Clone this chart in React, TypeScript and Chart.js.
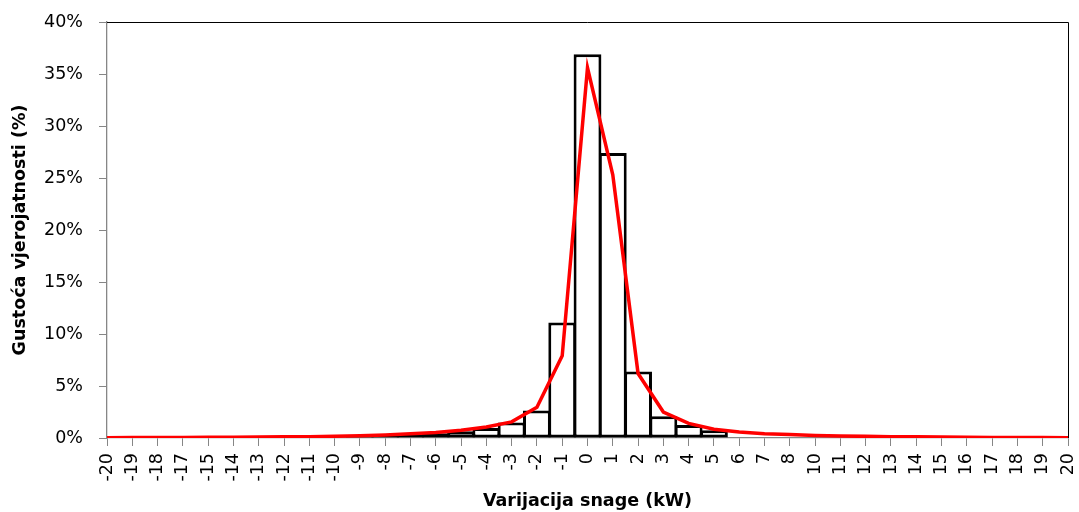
import React, { useEffect, useRef } from "react";
import { Chart, registerables } from "chart.js";

Chart.register(...registerables);

const categories: string[] = [
  "-20", "-19", "-18", "-17", "-15", "-14", "-13", "-12", "-11", "-10",
  "-9", "-8", "-7", "-6", "-5", "-4", "-3", "-2", "-1", "0",
  "1", "2", "3", "4", "5", "6", "7", "8", "10", "11",
  "12", "13", "14", "15", "16", "17", "18", "19", "20",
];

// Histogram (bar) values in %
const histogramValues: (number | null)[] = [
  null, null, null, null, null, null, null, null, null, null,
  0.15, 0.22, 0.35, 0.45, 0.65, 0.95, 1.5, 2.65, 11.1, 36.9,
  27.4, 6.4, 2.1, 1.25, 0.75, null, null, null, null, null,
  null, null, null, null, null, null, null, null, null,
];

// Fitted density (line) values in %
const densityValues: number[] = [
  0.03, 0.04, 0.05, 0.06, 0.07, 0.08, 0.09, 0.11, 0.13, 0.17,
  0.22, 0.3, 0.4, 0.53, 0.75, 1.05, 1.55, 2.95, 7.9, 35.6,
  25.3, 6.2, 2.5, 1.4, 0.85, 0.58, 0.42, 0.33, 0.24, 0.19,
  0.16, 0.13, 0.11, 0.09, 0.07, 0.06, 0.05, 0.04, 0.03,
];

const yTitle = "Gustoća vjerojatnosti (%)";
const xTitle = "Varijacija snage (kW)";

const FONT = "'DejaVu Sans', sans-serif";
const AXIS_GRAY = "#868686";

const frameBorder = {
  id: "frameBorder",
  afterDatasetsDraw(chart: any) {
    const { ctx, chartArea } = chart;
    ctx.save();
    ctx.strokeStyle = "#000000";
    ctx.lineWidth = 1;
    ctx.beginPath();
    ctx.moveTo(chartArea.left, chartArea.top + 0.5);
    ctx.lineTo(chartArea.right + 0.5, chartArea.top + 0.5);
    ctx.lineTo(chartArea.right + 0.5, chartArea.bottom);
    ctx.stroke();
    ctx.restore();
  },
};

export default function App() {
  const canvasRef = useRef<HTMLCanvasElement | null>(null);

  useEffect(() => {
    if (!canvasRef.current) return;
    const chart = new Chart(canvasRef.current, {
      type: "bar",
      data: {
        labels: categories,
        datasets: [
          {
            type: "line",
            label: "Gustoća",
            data: densityValues,
            borderColor: "#FF0000",
            borderWidth: 3.5,
            pointRadius: 0,
            tension: 0,
            fill: false,
            order: 0,
          },
          {
            type: "bar",
            label: "Histogram",
            data: histogramValues,
            backgroundColor: "#FFFFFF",
            borderColor: "#000000",
            borderWidth: 3,
            borderSkipped: false,
            categoryPercentage: 1,
            barPercentage: 1.1,
            order: 1,
          },
        ],
      },
      plugins: [frameBorder],
      options: {
        responsive: false,
        animation: false,
        layout: { padding: { left: 0, top: 22, right: 11, bottom: 0 } },
        plugins: {
          legend: { display: false },
          tooltip: { enabled: false },
        },
        scales: {
          x: {
            type: "category",
            offset: false,
            grid: {
              offset: false,
              drawOnChartArea: false,
              drawTicks: true,
              tickLength: 8,
              color: AXIS_GRAY,
              lineWidth: 1,
            },
            border: { display: true, color: AXIS_GRAY, width: 1.3 },
            ticks: {
              autoSkip: false,
              maxRotation: 90,
              minRotation: 90,
              padding: 7,
              color: "#000000",
              font: { family: FONT, size: 17.5 },
            },
            title: {
              display: true,
              text: xTitle,
              color: "#000000",
              font: { family: FONT, size: 17.5, weight: "bold" },
              padding: { top: 0, bottom: 0 },
            },
            afterFit(scale: any) {
              scale.height = 74;
              scale.paddingLeft = 0;
              scale.paddingRight = 0;
            },
          },
          y: {
            min: 0,
            max: 40,
            grid: {
              drawOnChartArea: false,
              drawTicks: true,
              tickLength: 8,
              color: AXIS_GRAY,
              lineWidth: 1,
            },
            border: { display: true, color: AXIS_GRAY, width: 1.3 },
            ticks: {
              stepSize: 5,
              padding: 16,
              color: "#000000",
              font: { family: FONT, size: 17.5 },
              callback: (v: any) => `${v}%`,
            },
            title: {
              display: true,
              text: yTitle,
              color: "#000000",
              font: { family: FONT, size: 17.5, weight: "bold" },
              padding: { top: 10, bottom: 0 },
            },
            afterFit(scale: any) {
              scale.width = 107;
              scale.paddingTop = 0;
              scale.paddingBottom = 0;
            },
          },
        },
      },
    });
    return () => chart.destroy();
  }, []);

  return (
    <div style={{ position: "absolute", left: 0, top: 0, width: 1079, height: 512, background: "#ffffff" }}>
      <canvas ref={canvasRef} width={1079} height={512} style={{ display: "block" }} />
    </div>
  );
}
